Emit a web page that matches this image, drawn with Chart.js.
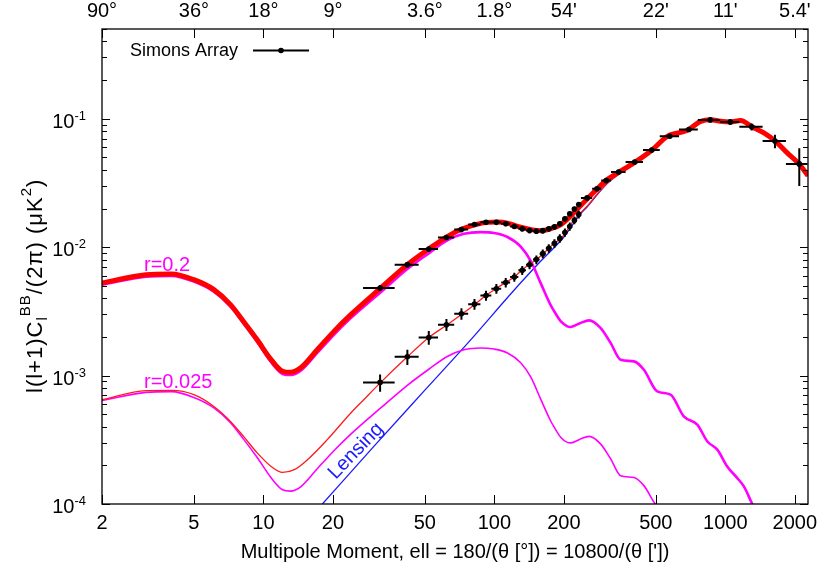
<!DOCTYPE html>
<html>
<head>
<meta charset="utf-8">
<script src="https://cdn.jsdelivr.net/npm/chart.js@4.4.0/dist/chart.umd.min.js"></script>
<style>
  html, body { margin: 0; padding: 0; background: #fff; }
  #wrap { width: 821px; height: 576px; }
</style>
</head>
<body>
<div id="wrap"><canvas id="bbChart" width="821" height="576"></canvas></div>
<script>
// ---- curves: multipole ell and l(l+1)C_l/2pi in uK^2 ----
const totalR020Ell = [2, 3.1, 4, 5, 6.1, 7.2, 8.2, 9.4, 10.8, 12.1, 13.1, 14.5, 17.1, 20.2, 23.9, 32.2, 42, 52, 62.5, 72.7,
  83, 93, 103, 114, 126, 144, 159, 175, 194, 214, 236, 279, 308, 341, 402, 483, 561, 684, 782, 863,
  953, 1054, 1164, 1308, 1469, 1650, 1854, 2081, 2280];
const totalR020 = [5.26e-3, 6.1e-3, 6.18e-3, 5.58e-3, 4.67e-3, 3.57e-3, 2.64e-3, 1.9e-3, 1.33e-3, 1.08e-3,
  1.06e-3, 1.15e-3, 1.59e-3, 2.21e-3, 2.98e-3, 4.81e-3, 7.31e-3, 9.68e-3, 1.21e-2, 1.39e-2,
  1.5e-2, 1.56e-2, 1.57e-2, 1.54e-2, 1.45e-2, 1.37e-2, 1.345e-2, 1.39e-2, 1.5e-2, 1.75e-2,
  2.1e-2, 2.85e-2, 3.36e-2, 3.78e-2, 4.53e-2, 5.74e-2, 7.29e-2, 8.12e-2, 9.55e-2, 9.84e-2,
  9.55e-2, 9.44e-2, 9.7e-2, 8.63e-2, 7.75e-2, 6.67e-2, 5.42e-2, 4.47e-2, 3.6e-2];

const totalR0025Ell = [2, 3.1, 4, 5, 6.1, 7.2, 8.2, 9.4, 10.8, 12.1, 13.6, 15.5, 18.9, 23.9, 27.2, 32.2, 42, 52, 62.5, 72.7,
  83, 91.6, 101, 112, 121.5, 132, 143.6, 153, 164, 175, 187, 200, 214, 236, 253, 279, 308, 341, 402, 483,
  561, 684, 782, 863, 953, 1054, 1164, 1308, 1469, 1650, 1854, 2081, 2280];
const totalR0025 = [6.49e-4, 7.63e-4, 7.66e-4, 7.1e-4, 5.75e-4, 4.4e-4, 3.36e-4, 2.5e-4, 1.96e-4, 1.76e-4,
  1.85e-4, 2.21e-4, 3.17e-4, 5.11e-4, 6.49e-4, 8.85e-4, 1.4e-3, 1.98e-3, 2.49e-3, 3.03e-3,
  3.63e-3, 4.19e-3, 4.72e-3, 5.32e-3, 5.82e-3, 6.68e-3, 7.44e-3, 8.09e-3, 9.01e-3, 1.01e-2,
  1.11e-2, 1.24e-2, 1.5e-2, 1.85e-2, 2.1e-2, 2.6e-2, 3.15e-2, 3.65e-2, 4.42e-2, 5.66e-2,
  7.23e-2, 8.08e-2, 9.52e-2, 9.82e-2, 9.53e-2, 9.42e-2, 9.68e-2, 8.62e-2, 7.75e-2, 6.67e-2,
  5.42e-2, 4.47e-2, 3.6e-2];

const primEll = [2, 3.1, 4, 5, 6.1, 7.2, 8.2, 9.4, 10.8, 12.1, 13.1, 14.5, 17.1, 20.2, 23.9, 32.2, 42, 52, 62.5, 73.8,
  87.2, 99.6, 114, 130, 144, 159, 175, 181, 194, 207, 214, 236, 257, 288, 319, 352, 402, 444, 507, 579,
  661, 756, 836, 923, 1019, 1127, 1203, 1308, 1420];
const primR020 = [5.1e-3, 5.9e-3, 5.98e-3, 5.4e-3, 4.5e-3, 3.45e-3, 2.55e-3, 1.83e-3, 1.27e-3, 1.03e-3,
  1.01e-3, 1.09e-3, 1.5e-3, 2.08e-3, 2.8e-3, 4.45e-3, 6.75e-3, 8.95e-3, 1.13e-2, 1.27e-2,
  1.31e-2, 1.29e-2, 1.2e-2, 1.01e-2, 7.75e-3, 5.2e-3, 3.55e-3, 3.2e-3, 2.64e-3, 2.42e-3,
  2.39e-3, 2.57e-3, 2.69e-3, 2.35e-3, 1.79e-3, 1.33e-3, 1.29e-3, 1.11e-3, 7.53e-4, 7.1e-4,
  4.81e-4, 4.15e-4, 3.07e-4, 2.65e-4, 1.96e-4, 1.59e-4, 1.37e-4, 1.0e-4, 7.6e-5];
const primR0025 = [6.4e-4, 7.4e-4, 7.5e-4, 6.75e-4, 5.6e-4, 4.3e-4, 3.2e-4, 2.3e-4, 1.6e-4, 1.29e-4,
  1.26e-4, 1.36e-4, 1.88e-4, 2.6e-4, 3.5e-4, 5.6e-4, 8.4e-4, 1.12e-3, 1.41e-3, 1.59e-3,
  1.64e-3, 1.61e-3, 1.5e-3, 1.26e-3, 9.7e-4, 6.5e-4, 4.45e-4, 4.0e-4, 3.3e-4, 3.02e-4,
  2.99e-4, 3.21e-4, 3.36e-4, 2.94e-4, 2.24e-4, 1.66e-4, 1.61e-4, 1.39e-4, 9.6e-5, 8.9e-5];

const lensingEll = [18, 30, 50, 80, 120, 160, 200, 236, 253, 279, 308, 341, 402, 483, 561, 684, 782, 863,
  953, 1054, 1164, 1308, 1469, 1650, 1854, 2081, 2280];
const lensing = [1.0e-4, 2.8e-4, 7.7e-4, 1.95e-3, 4.5e-3, 7.9e-3, 1.2e-2, 1.82e-2, 2.07e-2, 2.57e-2,
  3.13e-2, 3.63e-2, 4.4e-2, 5.64e-2, 7.2e-2, 8.05e-2, 9.5e-2, 9.8e-2,
  9.5e-2, 9.4e-2, 9.65e-2, 8.6e-2, 7.73e-2, 6.65e-2, 5.4e-2, 4.45e-2, 3.58e-2];

// ---- Simons Array forecast band powers ----
const binCenter = [32, 42, 52, 62, 72, 82, 92, 102, 112, 122, 132, 142, 152, 162, 172, 182, 192, 202, 212, 222, 232,
  252, 278, 305, 345, 405, 480, 575, 695, 860, 1050, 1300, 1640, 2090];
const binLow = [27, 37, 47, 57, 67, 77, 87, 97, 107, 117, 127, 137, 147, 157, 167, 177, 187, 197, 207, 217, 227,
  237, 265, 290, 320, 370, 440, 520, 630, 760, 950, 1150, 1450, 1830];
const binHigh = [37, 47, 57, 67, 77, 87, 97, 107, 117, 127, 137, 147, 157, 167, 177, 187, 197, 207, 217, 227, 237,
  265, 290, 320, 370, 440, 520, 630, 760, 950, 1150, 1450, 1830, 2270];
const saR020 = [4.81e-3, 7.31e-3, 9.68e-3, 1.19e-2, 1.37e-2, 1.5e-2, 1.56e-2, 1.56e-2, 1.52e-2, 1.45e-2,
  1.39e-2, 1.35e-2, 1.33e-2, 1.345e-2, 1.39e-2, 1.44e-2, 1.52e-2, 1.66e-2, 1.82e-2, 1.98e-2,
  2.15e-2, 2.42e-2, 2.85e-2, 3.3e-2, 3.85e-2, 4.6e-2, 5.7e-2, 7.3e-2, 8.25e-2, 9.8e-2,
  9.45e-2, 8.65e-2, 6.7e-2, 4.45e-2];
const saR020Err = [2.5e-4, 3.5e-4, 4.5e-4, 5.5e-4, 6e-4, 6.5e-4, 6.5e-4, 6.5e-4, 6.5e-4, 6.5e-4,
  6.5e-4, 6.5e-4, 6.5e-4, 6.5e-4, 6.5e-4, 7e-4, 7e-4, 7.5e-4, 8e-4, 8.5e-4,
  9e-4, 1.0e-3, 1.1e-3, 1.3e-3, 1.5e-3, 1.8e-3, 2.2e-3, 2.8e-3, 3.2e-3, 4e-3,
  4.5e-3, 5.5e-3, 8e-3, 1.45e-2];
const saR0025 = [8.85e-4, 1.4e-3, 1.98e-3, 2.49e-3, 3.03e-3, 3.6e-3, 4.2e-3, 4.75e-3, 5.3e-3, 5.85e-3,
  6.6e-3, 7.3e-3, 8.0e-3, 8.9e-3, 9.8e-3, 1.07e-2, 1.17e-2, 1.3e-2, 1.45e-2, 1.62e-2, 1.8e-2];
const saR0025Err = [1.35e-4, 1.9e-4, 2.4e-4, 2.7e-4, 3.1e-4, 3.4e-4, 3.8e-4, 4.1e-4, 4.5e-4, 4.8e-4,
  5.3e-4, 5.8e-4, 6.3e-4, 6.9e-4, 7.5e-4, 8.1e-4, 8.8e-4, 9.6e-4, 1.05e-3, 1.15e-3, 1.25e-3];

// ---- axes ----
const xTickValues = [2, 5, 10, 20, 50, 100, 200, 500, 1000, 2000];
const xTickLabels = ["2", "5", "10", "20", "50", "100", "200", "500", "1000", "2000"];
const topTickLabels = ["90°", "36°", "18°", "9°", "3.6°", "1.8°", "54'", "22'", "11'", "5.4'"];
const yTickExponents = [-4, -3, -2, -1];

const FONT = '"Liberation Sans", Arial, Helvetica, sans-serif';

function pairs(xs, ys) {
  return ys.map((v, i) => ({ x: xs[i], y: v }));
}

function curve(label, xs, ys, color, width) {
  return {
    label,
    data: pairs(xs, ys),
    borderColor: color,
    backgroundColor: color,
    borderWidth: width,
    pointRadius: 0,
    fill: false,
    cubicInterpolationMode: "monotone",
  };
}

function bandPowers(label, vals, errs) {
  return {
    label,
    data: pairs(binCenter, vals),
    errors: vals.map((v, i) => ({ lo: binLow[i], hi: binHigh[i], dy: errs[i] })),
    showLine: false,
    pointRadius: 2.8,
    pointBackgroundColor: "#000",
    pointBorderColor: "#000",
    pointBorderWidth: 0,
  };
}

// Error bars (horizontal = bin width, vertical = error)
const errorBars = {
  id: "errorBars",
  afterDatasetsDraw(chart) {
    const { ctx, scales } = chart;
    const x = scales.x, y = scales.y;
    ctx.save();
    ctx.strokeStyle = "#000";
    ctx.lineWidth = 2;
    chart.data.datasets.forEach((ds) => {
      if (!ds.errors) return;
      ds.data.forEach((p, j) => {
        const e = ds.errors[j];
        const px = x.getPixelForValue(p.x);
        const py = y.getPixelForValue(p.y);
        ctx.beginPath();
        ctx.moveTo(x.getPixelForValue(e.lo), py);
        ctx.lineTo(x.getPixelForValue(e.hi), py);
        ctx.moveTo(px, y.getPixelForValue(p.y - e.dy));
        ctx.lineTo(px, y.getPixelForValue(p.y + e.dy));
        ctx.stroke();
      });
    });
    ctx.restore();
  },
};

// Frame, gnuplot style ticks, labels, legend and annotations
const frame = {
  id: "frame",
  afterDraw(chart) {
    const { ctx, chartArea: a, scales } = chart;
    const x = scales.x, y = scales.y;
    ctx.save();

    // ticks
    ctx.strokeStyle = "#000";
    ctx.lineWidth = 1;
    ctx.beginPath();
    xTickValues.forEach((v) => {
      const px = Math.round(x.getPixelForValue(v)) + 0.5;
      ctx.moveTo(px, a.bottom);
      ctx.lineTo(px, a.bottom - 9);
      ctx.moveTo(px, a.top);
      ctx.lineTo(px, a.top + 9);
    });
    for (let d = -4; d <= -1; d++) {
      for (let m = 1; m <= 9; m++) {
        const v = m * Math.pow(10, d);
        if (v > y.max) break;
        const py = Math.round(y.getPixelForValue(v)) + 0.5;
        const len = m === 1 ? 8 : 5;
        ctx.moveTo(a.left, py);
        ctx.lineTo(a.left + len, py);
        ctx.moveTo(a.right, py);
        ctx.lineTo(a.right - len, py);
      }
    }
    ctx.stroke();

    // border
    ctx.lineWidth = 1.3;
    ctx.strokeRect(a.left, a.top, a.right - a.left, a.bottom - a.top);

    // x labels bottom and top
    ctx.fillStyle = "#000";
    ctx.font = "20px " + FONT;
    ctx.textAlign = "center";
    ctx.textBaseline = "middle";
    xTickValues.forEach((v, i) => {
      const px = x.getPixelForValue(v);
      ctx.fillText(xTickLabels[i], px, a.bottom + 19);
      ctx.fillText(topTickLabels[i], px, 11);
    });

    // y labels 10^n
    ctx.textBaseline = "alphabetic";
    ctx.textAlign = "left";
    yTickExponents.forEach((n) => {
      const py = y.getPixelForValue(Math.pow(10, n));
      const sup = String(n);
      ctx.font = "13px " + FONT;
      const ws = ctx.measureText(sup).width;
      ctx.font = "20px " + FONT;
      const wb = ctx.measureText("10").width;
      const right = a.left - 16;
      ctx.fillText("10", right - ws - wb, py + 9);
      ctx.font = "13px " + FONT;
      ctx.fillText(sup, right - ws, py + 1);
    });

    // x title
    ctx.font = "20px " + FONT;
    ctx.textAlign = "center";
    ctx.textBaseline = "middle";
    ctx.fillText("Multipole Moment, ell = 180/(\u03b8 [\u00b0]) = 10800/(\u03b8 ['])", (a.left + a.right) / 2, 552);

    // y title (rotated, with sub/superscripts)
    ctx.save();
    ctx.translate(42, 393);
    ctx.rotate(-Math.PI / 2);
    ctx.textAlign = "left";
    ctx.textBaseline = "alphabetic";
    ctx.letterSpacing = "1px";
    const parts = [
      ["l(l+1)C", 22, 0],
      ["l", 15, 5],
      ["BB", 15, -12],
      ["/(2\u03c0) (\u03bcK", 22, 0],
      ["2", 15, -11],
      [")", 22, 0],
    ];
    let cx = 0;
    parts.forEach(([t, s, dy]) => {
      ctx.font = s + "px " + FONT;
      ctx.fillText(t, cx, dy);
      cx += ctx.measureText(t).width;
    });
    ctx.letterSpacing = "0px";
    ctx.restore();

    // legend
    ctx.font = "18px " + FONT;
    ctx.textAlign = "left";
    ctx.textBaseline = "middle";
    ctx.fillText("Simons Array", 130, 51);
    ctx.lineWidth = 2;
    ctx.beginPath();
    ctx.moveTo(253, 50.5);
    ctx.lineTo(309, 50.5);
    ctx.stroke();
    ctx.beginPath();
    ctx.arc(281, 50.5, 2.8, 0, Math.PI * 2);
    ctx.fill();

    // curve annotations
    ctx.font = "20px " + FONT;
    ctx.fillStyle = "#ff00ff";
    ctx.textBaseline = "alphabetic";
    ctx.fillText("r=0.2", 144, 271);
    ctx.fillText("r=0.025", 144, 388);

    ctx.save();
    ctx.fillStyle = "#1a1aff";
    ctx.translate(356, 451);
    ctx.rotate(-46 * Math.PI / 180);
    ctx.textAlign = "center";
    ctx.textBaseline = "middle";
    ctx.fillText("Lensing", 0, 0);
    ctx.restore();

    ctx.restore();
  },
};

const chart = new Chart(document.getElementById("bbChart").getContext("2d"), {
  type: "line",
  data: {
    datasets: [
      bandPowers("Simons Array r=0.025", saR0025, saR0025Err),
      bandPowers("Simons Array", saR020, saR020Err),
      curve("r=0.2 total", totalR020Ell, totalR020, "#ff0000", 5),
      curve("r=0.025 total", totalR0025Ell, totalR0025, "#ff1a1a", 1.3),
      curve("r=0.2", primEll, primR020, "#ff00ff", 2.6),
      curve("r=0.025", primEll.slice(0, primR0025.length), primR0025, "#ff00ff", 1.6),
      curve("Lensing", lensingEll, lensing, "#1a1aff", 1.3),
    ],
  },
  options: {
    responsive: false,
    animation: false,
    events: [],
    layout: { padding: { left: 102, right: 13, top: 29, bottom: 72 } },
    scales: {
      x: { type: "logarithmic", min: 2, max: 2280, display: false },
      y: { type: "logarithmic", min: 1e-4, max: 0.5, display: false },
    },
    plugins: { legend: { display: false }, tooltip: { enabled: false } },
  },
  plugins: [errorBars, frame],
});
</script>
</body>
</html>
